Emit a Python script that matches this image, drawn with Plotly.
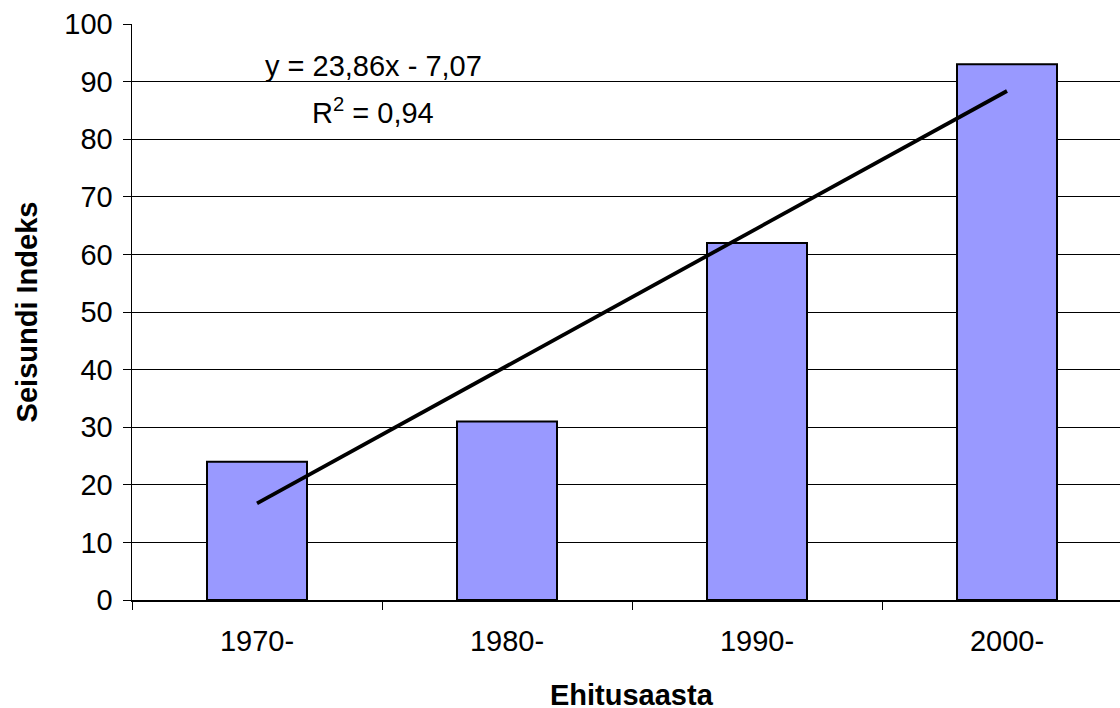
import plotly.graph_objects as go

categories = ["1970-", "1980-", "1990-", "2000-"]
values = [24, 31, 62, 93]
trend_slope = 23.86
trend_intercept = -7.07
y_ticks = [0, 10, 20, 30, 40, 50, 60, 70, 80, 90, 100]
x_title = "Ehitusaasta"
y_title = "Seisundi Indeks"

FONT = "Liberation Sans, Arial, sans-serif"
FS = 29

trend_x = [1, len(categories)]
trend_y = [trend_slope * x + trend_intercept for x in trend_x]

fig = go.Figure()
fig.add_trace(go.Bar(
    x=categories, y=values, width=0.4,
    marker=dict(color="#9999FF", line=dict(color="#000000", width=2)),
    showlegend=False, hoverinfo="skip",
))
fig.add_trace(go.Scatter(
    x=[categories[0], categories[-1]], y=trend_y, mode="lines",
    line=dict(color="#000000", width=3.8), showlegend=False, hoverinfo="skip",
))

fig.add_annotation(
    x=0.465, y=(600 - 66) / 5.76, xref="x", yref="y",
    text="y = 23,86x - 7,07", showarrow=False,
    font=dict(family=FONT, size=FS, color="#000"),
    xanchor="center", yanchor="middle",
)
fig.add_annotation(
    x=0.465, y=(600 - 111) / 5.76, xref="x", yref="y",
    text="R<sup>2</sup> = 0,94", showarrow=False,
    font=dict(family=FONT, size=FS, color="#000"),
    xanchor="center", yanchor="middle",
)
# x-axis title
fig.add_annotation(
    x=(632 - 132) / 988, y=(600 - 695) / 576, xref="paper", yref="paper",
    text="<b>" + x_title + "</b>", showarrow=False,
    font=dict(family=FONT, size=FS, color="#000"),
    xanchor="center", yanchor="middle",
)

fig.update_layout(
    width=1120, height=708,
    margin=dict(l=132, r=0, t=24, b=108),
    paper_bgcolor="#ffffff", plot_bgcolor="#ffffff",
    font=dict(family=FONT, size=FS, color="#000"),
    xaxis=dict(
        type="category", range=[-0.5, 3.452], automargin=False,
        tickson="boundaries", ticks="outside", ticklen=8, tickcolor="#000", tickwidth=1,
        showline=True, linecolor="#000", linewidth=1.5, showgrid=False,
        tickfont=dict(family=FONT, size=FS), ticklabelstandoff=15,
    ),
    yaxis=dict(
        range=[0, 100], tickvals=y_ticks, ticks="outside", ticklen=8, tickcolor="#000",
        showline=True, linecolor="#000", linewidth=1.5, automargin=False,
        showgrid=True, gridcolor="#000", gridwidth=1, zeroline=False,
        tickfont=dict(family=FONT, size=FS), ticklabelstandoff=4,
        title=dict(text="<b>" + y_title + "</b>", font=dict(family=FONT, size=FS), standoff=18),
    ),
)

fig.write_html(
    "out.html",
    config={"displayModeBar": False, "staticPlot": True},
    post_script="document.body.style.margin='0';document.body.style.overflow='hidden';",
)
